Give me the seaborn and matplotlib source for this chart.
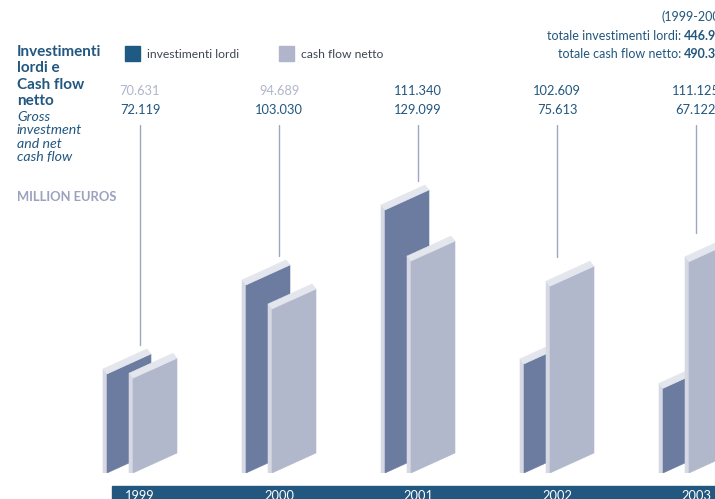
# Import modules
import seaborn as sns
import matplotlib.pyplot as plt
import matplotlib.transforms as mtransforms
from matplotlib.patches import Rectangle
import pandas as pd

# Data
years = ['1999', '2000', '2001', '2002', '2003']
investimenti = [72.119, 103.030, 129.099, 75.613, 67.122]
cash_flow = [70.631, 94.689, 111.340, 102.609, 111.125]
cash_muted = [True, True, False, False, False]

df = pd.DataFrame({'year': years, 'investimenti lordi': investimenti,
                   'cash flow netto': cash_flow})

# Settings
sns.set_style('white')
plt.rcParams['font.family'] = ['Lato', 'DejaVu Sans']

W, H = 715, 499
BLUE = '#22577f'
MUTED = '#b0b6cb'
LINE = '#9ea6c2'
# front, side, cap for each series
dark = sns.color_palette(['#6b7ca0', '#d6d9e4', '#e4e6ee'])
light = sns.color_palette(['#b2b8cc', '#d6d9e4', '#e4e6ee'])

x0, step = 140, 139          # pixel centre of first year, pixels per year
base, ppu = 37.7, 2.878      # value at baseline, pixels per unit
y_base, y_top = 473, 125     # pixel rows (from top) of baseline and axes top


def fy(p):
    return 1 - p / H


def dx(px):
    return px / step


def dy(px):
    return px / ppu


def draw_bar(ax, c, offset, value, cols):
    front, side, cap = cols
    xl = c + dx(offset)
    xr = xl + dx(44)
    rise = dy(20)
    ddx, ddy = dx(-4), dy(5)
    kw = dict(lw=0.4)
    ax.fill([xl + ddx, xl, xl, xl + ddx], [base, base, value, value + ddy],
            color=side, **kw)
    ax.fill([xl, xr, xr, xl], [base, base + rise, value + rise, value],
            color=front, **kw)
    ax.fill([xl, xr, xr + ddx, xl + ddx],
            [value, value + rise, value + rise + ddy, value + ddy],
            color=cap, **kw)


fig = plt.figure(figsize=(W / 100, H / 100), dpi=100)
ax = fig.add_axes([0, fy(y_base), 1, (y_base - y_top) / H])
ax.set_xlim(-x0 / step, (W - x0) / step)
ax.set_ylim(base, base + (y_base - y_top) / ppu)
ax.axis('off')

xfig = mtransforms.blended_transform_factory(ax.transData, fig.transFigure)

# Year band
fig.patches.append(Rectangle((112 / W, 0), 1, 13 / H, transform=fig.transFigure,
                             color=BLUE, zorder=0))

# Bars, leader lines and value labels
for i, row in df.iterrows():
    inv = row['investimenti lordi']
    cf = row['cash flow netto']
    ax.plot([i, i], [max(inv, cf) + dy(29), ax.get_ylim()[1]], color=LINE,
            lw=1, zorder=1)
    draw_bar(ax, i, -33, inv, dark)
    draw_bar(ax, i, -7, cf, light)
    fig.text(i, fy(91), f'{cf:.3f}', transform=xfig, ha='center', va='center',
             fontsize=9.3, color=MUTED if cash_muted[i] else BLUE)
    fig.text(i, fy(110), f'{inv:.3f}', transform=xfig, ha='center',
             va='center', fontsize=9.3, color=BLUE)
    fig.text(i, fy(500), row['year'], transform=xfig, ha='center',
             va='baseline', fontsize=9.3, color='white', zorder=5)

# Title block
for y, s in zip([52, 68, 85, 101], ['Investimenti', 'lordi e', 'Cash flow', 'netto']):
    fig.text(17 / W, fy(y), s, va='center', fontsize=11, weight='bold',
             color=BLUE)
for y, s in zip([117, 130, 144, 157], ['Gross', 'investment', 'and net', 'cash flow']):
    fig.text(17 / W, fy(y), s, va='center', fontsize=10.2, style='italic',
             color=BLUE)
fig.text(17 / W, fy(197), 'MILLION EUROS', va='center', fontsize=9.4,
         weight='bold', color='#9aa2bd')

# Legend
for x, col, lab in [(125, '#1f5a85', 'investimenti lordi'),
                    (279, '#b0b5cb', 'cash flow netto')]:
    fig.patches.append(Rectangle((x / W, fy(61)), 15 / W, 15 / H,
                                 transform=fig.transFigure, color=col))
    fig.text((x + 22) / W, fy(54), lab, va='center', fontsize=8.7,
             color='#3d4553')

# Totals (run off the right edge like the original)
renderer = fig.canvas.get_renderer()
fig.text(731 / W, fy(17), '(1999-2003)', ha='right', va='center', fontsize=9,
         color=BLUE)
for y, lab, val in [(36, 'totale investimenti lordi: ', sum(investimenti)),
                    (54, 'totale cash flow netto: ', sum(cash_flow))]:
    t = fig.text(731 / W, fy(y), f'{val:.3f}', ha='right', va='center',
                 fontsize=9, weight='bold', color=BLUE)
    x_left = t.get_window_extent(renderer).x0 / fig.bbox.width
    fig.text(x_left, fy(y), lab, ha='right', va='center', fontsize=9,
             color=BLUE)

plt.savefig('out.png', dpi=100)
print('Successfully completed')
